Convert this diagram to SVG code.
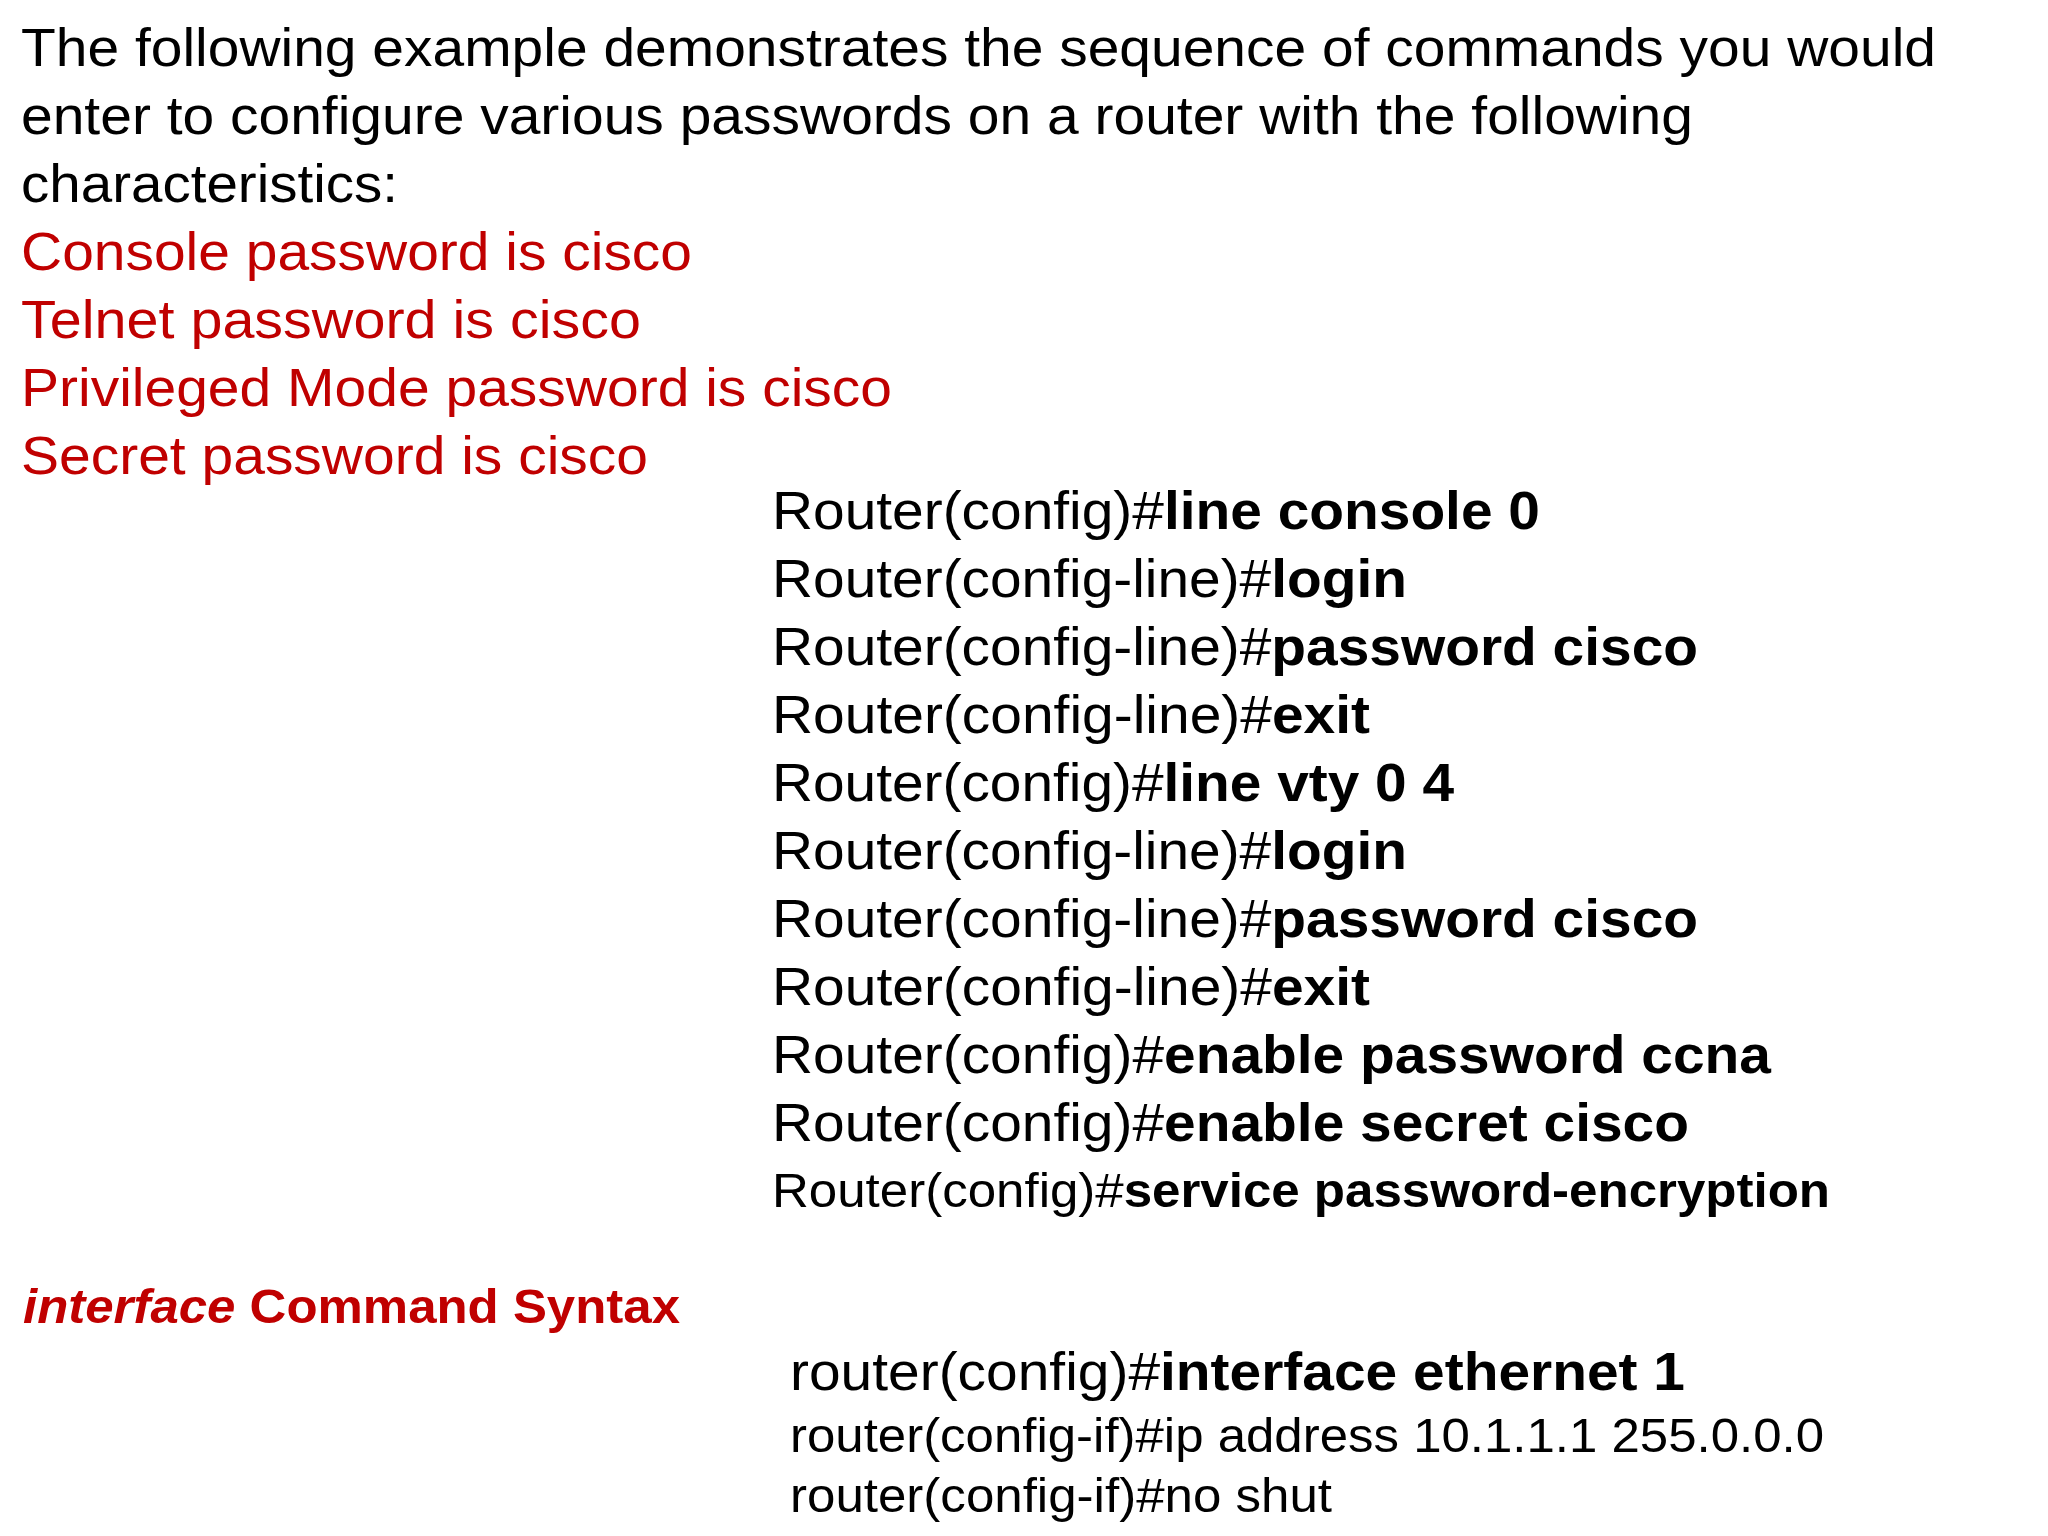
<svg xmlns="http://www.w3.org/2000/svg" width="2048" height="1536" viewBox="0 0 2048 1536">
<style>
text{font-family:"Liberation Sans",Arial,sans-serif;font-size:53px;fill:#000}
.r{fill:#c00000}
.b{font-weight:bold}
.s{font-size:48px}
</style>
<rect width="2048" height="1536" fill="#fff"/>
<g id="intro">
<text x="21" y="66" textLength="1915" lengthAdjust="spacingAndGlyphs">The following example demonstrates the sequence of commands you would</text>
<text x="21" y="134" textLength="1672" lengthAdjust="spacingAndGlyphs">enter to configure various passwords on a router with the following</text>
<text x="21" y="202" textLength="377" lengthAdjust="spacingAndGlyphs">characteristics:</text>
</g>
<g id="reqs">
<text class="r" x="21" y="270" textLength="671" lengthAdjust="spacingAndGlyphs">Console password is cisco</text>
<text class="r" x="21" y="338" textLength="620" lengthAdjust="spacingAndGlyphs">Telnet password is cisco</text>
<text class="r" x="21" y="406" textLength="871" lengthAdjust="spacingAndGlyphs">Privileged Mode password is cisco</text>
<text class="r" x="21" y="474" textLength="627" lengthAdjust="spacingAndGlyphs">Secret password is cisco</text>
</g>
<g id="commands">
<text x="772" y="529" textLength="768" lengthAdjust="spacingAndGlyphs">Router(config)#<tspan class="b">line console 0</tspan></text>
<text x="772" y="597" textLength="635" lengthAdjust="spacingAndGlyphs">Router(config-line)#<tspan class="b">login</tspan></text>
<text x="772" y="665" textLength="926" lengthAdjust="spacingAndGlyphs">Router(config-line)#<tspan class="b">password cisco</tspan></text>
<text x="772" y="733" textLength="598" lengthAdjust="spacingAndGlyphs">Router(config-line)#<tspan class="b">exit</tspan></text>
<text x="772" y="801" textLength="682" lengthAdjust="spacingAndGlyphs">Router(config)#<tspan class="b">line vty 0 4</tspan></text>
<text x="772" y="869" textLength="635" lengthAdjust="spacingAndGlyphs">Router(config-line)#<tspan class="b">login</tspan></text>
<text x="772" y="937" textLength="926" lengthAdjust="spacingAndGlyphs">Router(config-line)#<tspan class="b">password cisco</tspan></text>
<text x="772" y="1005" textLength="598" lengthAdjust="spacingAndGlyphs">Router(config-line)#<tspan class="b">exit</tspan></text>
<text x="772" y="1073" textLength="999" lengthAdjust="spacingAndGlyphs">Router(config)#<tspan class="b">enable password ccna</tspan></text>
<text x="772" y="1141" textLength="917" lengthAdjust="spacingAndGlyphs">Router(config)#<tspan class="b">enable secret cisco</tspan></text>
<text class="s" x="772" y="1207" textLength="1058" lengthAdjust="spacingAndGlyphs">Router(config)#<tspan class="b">service password-encryption</tspan></text>
</g>
<g id="iface">
<text class="r b s" x="23" y="1323" textLength="657" lengthAdjust="spacingAndGlyphs"><tspan font-style="italic">interface</tspan> Command Syntax</text>
<text x="790" y="1390" textLength="895" lengthAdjust="spacingAndGlyphs">router(config)#<tspan class="b">interface ethernet 1</tspan></text>
<text class="s" x="790" y="1452" textLength="1034" lengthAdjust="spacingAndGlyphs">router(config-if)#ip address 10.1.1.1 255.0.0.0</text>
<text class="s" x="790" y="1512" textLength="542" lengthAdjust="spacingAndGlyphs">router(config-if)#no shut</text>
</g>
</svg>
